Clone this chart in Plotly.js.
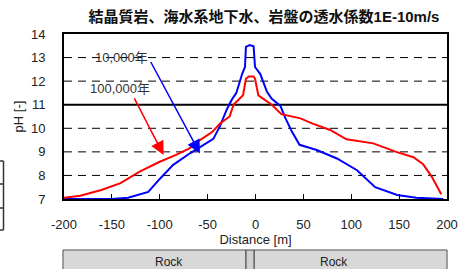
<!DOCTYPE html>
<html><head><meta charset="utf-8">
<script src="https://cdn.plot.ly/plotly-3.0.1.min.js"></script>
<style>html,body{margin:0;padding:0;background:#fff;}#chart{width:459px;height:269px;}</style>
</head><body><div id="chart"></div>
<script>
// 10,000年 (blue)
const blueX = [-200,-150,-133,-112,-100,-86,-68,-58,-44,-37,-30,-25,-20,-14,-11,-10,-6,-2,-0.5,5,12,17,26,31,38,46,64,85,106,125,148,168,196];
const blueY = [7.0,7.0,7.05,7.3,7.85,8.45,8.95,9.2,9.55,10.1,10.8,11.2,11.5,12.3,12.6,13.45,13.53,13.48,12.6,12.3,11.55,11.25,10.95,10.45,9.86,9.3,9.08,8.72,8.22,7.5,7.17,7.05,7.0];
// 100,000年 (red)
const redX = [-200,-183,-161,-141,-121,-100,-83,-69,-58,-45,-37,-27,-23,-13,-10,-7,-2,-0.5,3,8,17,27,47,59,78,95,123,147,165,175,184,194];
const redY = [7.05,7.14,7.38,7.67,8.16,8.58,8.87,9.15,9.5,9.85,10.2,10.5,11.0,11.4,12.1,12.2,12.2,12.1,11.4,11.25,11.0,10.6,10.42,10.21,9.93,9.53,9.36,9.0,8.77,8.48,7.95,7.2];
const xTicks = [-200,-150,-100,-50,0,50,100,150,200];
const yTicks = [7,8,9,10,11,12,13,14];
const dashedLevels = [8,9,10,12,13];
const solidLevel = 11;
const labels = ["10,000年","100,000年"];
const titleText = "結晶質岩、海水系地下水、岩盤の透水係数1E-10m/s";
const rockLabel = "Rock";

const FONT = "Liberation Sans, Arial, Noto Sans CJK JP, sans-serif";

const traces = [
  {x: blueX, y: blueY, type:'scatter', mode:'lines', line:{color:'#0000ff', width:2}, hoverinfo:'skip'},
  {x: redX, y: redY, type:'scatter', mode:'lines', line:{color:'#ff0000', width:2}, hoverinfo:'skip'}
];

const shapes = [];
dashedLevels.forEach(v => shapes.push({type:'line', xref:'paper', yref:'y', x0:0, x1:1, y0:v, y1:v, layer:'below', line:{color:'#000', width:1, dash:'8px,6px'}}));
shapes.push({type:'line', xref:'paper', yref:'y', x0:0, x1:1, y0:solidLevel, y1:solidLevel, layer:'below', line:{color:'#000', width:2}});

// rock boxes below the chart (paper coords; plot area 64..447 px, 34..199 px)
function px2x(px){return (px-64)/383;}
function py2y(py){return (199-py)/165;}
const boxes = [[63,246],[254,447]];
boxes.forEach(b=>{
  shapes.push({type:'rect', xref:'paper', yref:'paper', x0:px2x(b[0]), x1:px2x(b[1]), y0:py2y(250), y1:py2y(275), fillcolor:'#ececec', line:{color:'#444', width:1}});
  for(let py=252; py<272; py+=2){
    shapes.push({type:'line', xref:'paper', yref:'paper', x0:px2x(b[0]+1), x1:px2x(b[1]-1), y0:py2y(py), y1:py2y(py), line:{color:'#c4c4c4', width:1}});
  }
});
shapes.push({type:'rect', xref:'paper', yref:'paper', x0:px2x(246), x1:px2x(254), y0:py2y(250), y1:py2y(275), fillcolor:'#d0d0d0', line:{color:'#444', width:1}});
// partial table at left edge
shapes.push({type:'line', xref:'paper', yref:'paper', x0:px2x(3.5), x1:px2x(3.5), y0:py2y(161), y1:py2y(230), line:{color:'#333', width:1.5}});
[161,184,208,230].forEach(py=>shapes.push({type:'line', xref:'paper', yref:'paper', x0:px2x(-2), x1:px2x(3.5), y0:py2y(py), y1:py2y(py), line:{color:'#333', width:1.5}}));

const annotations = [
  {x:-140, y:13.02, text:labels[0], showarrow:false, font:{family:FONT, size:13, color:'#333'}},
  {x:-141, y:11.7, text:labels[1], showarrow:false, font:{family:FONT, size:13, color:'#333'}},
  {x:-58, y:8.93, ax:-50, ay:-93, text:'', showarrow:true, arrowhead:2, arrowsize:1.8, arrowwidth:1.5, arrowcolor:'#0000ff'},
  {x:-96, y:8.87, ax:-30, ay:-58, text:'', showarrow:true, arrowhead:2, arrowsize:1.8, arrowwidth:1.5, arrowcolor:'#ff0000'},
  {xref:'paper', yref:'paper', x:px2x(153), y:py2y(253), yanchor:'top', text:rockLabel, showarrow:false, font:{family:FONT, size:12, color:'#222'}},
  {xref:'paper', yref:'paper', x:px2x(350), y:py2y(253), yanchor:'top', text:rockLabel, showarrow:false, font:{family:FONT, size:12, color:'#222'}}
];

const layout = {
  width:459, height:269,
  margin:{l:64, r:12, t:34, b:70, pad:0},
  paper_bgcolor:'#fff', plot_bgcolor:'#fff',
  showlegend:false,
  font:{family:FONT, size:13, color:'#222'},
  title:{text:'<b>'+titleText+'</b>', x:264/459, xanchor:'center', xref:'container', y:1-17/269, yanchor:'middle', yref:'container', font:{family:'Liberation Sans, Noto Sans CJK JP, sans-serif', size:15, color:'#111'}},
  xaxis:{range:[-200,200], tickvals:xTicks, ticktext:xTicks.map(String), ticks:'inside', ticklen:5, tickcolor:'#000', showgrid:false, zeroline:false,
         showline:true, linecolor:'#000', linewidth:2, mirror:true, ticklabelstandoff:12,
         title:{text:'Distance [m]', standoff:1, font:{size:13, color:'#222'}}, tickfont:{size:13, color:'#222'}},
  yaxis:{range:[7,14], tickvals:yTicks, ticks:'', showgrid:false, zeroline:false,
         showline:true, linecolor:'#000', linewidth:2, mirror:true, ticklabelstandoff:14,
         title:{text:'pH [-]', standoff:4, font:{size:13, color:'#222'}}, tickfont:{size:13, color:'#222'}},
  shapes:shapes,
  annotations:annotations
};

Plotly.newPlot('chart', traces, layout, {staticPlot:true, displayModeBar:false});
</script></body></html>
